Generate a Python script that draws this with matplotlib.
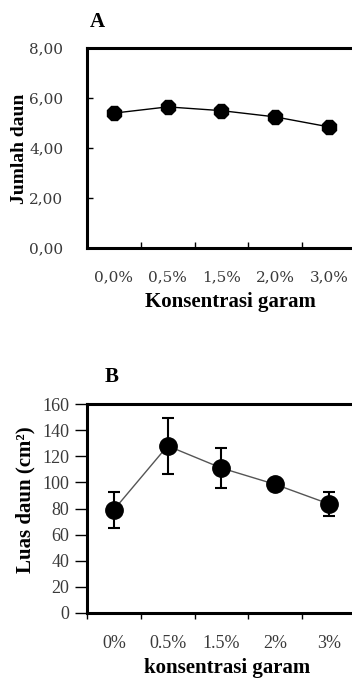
import numpy as np
import matplotlib.pyplot as plt

plt.rcParams['font.family'] = ['Liberation Serif', 'DejaVu Serif']

# data panel A
kat_a = ['0,0%', '0,5%', '1,5%', '2,0%', '3,0%']
jumlah_daun = [5.40, 5.65, 5.50, 5.25, 4.85]
err_a = [0.18, 0.20, 0.18, 0.15, 0.12]

# data panel B
kat_b = ['0%', '0.5%', '1.5%', '2%', '3%']
luas_daun = [79, 128, 111, 98.5, 83.5]
err_b = [14, 21.5, 15, 3, 9]

fig = plt.figure(figsize=(3.52, 6.78), dpi=100)
axA = fig.add_axes([0.247, 0.634, 0.764, 0.295])
axB = fig.add_axes([0.247, 0.096, 0.764, 0.308])

tick_col = '#3a3a3a'
font_a = dict(family='DejaVu Serif', size=11)
font_b = dict(family='Liberation Serif', size=13)

def style(ax, labels, direction, font):
    x = np.arange(len(labels))
    ax.set_xlim(-0.5, len(labels) - 0.5)
    ax.set_xticks(x)
    ax.set_xticklabels(labels, color=tick_col, **font)
    ax.set_xticks(np.arange(len(labels) + 1) - 0.5, minor=True)
    ax.tick_params(axis='x', which='minor', length=4, width=1, direction=direction)
    ax.tick_params(axis='y', length=4, width=1, direction=direction)
    for s in ax.spines.values():
        s.set_linewidth(2.2)
    return x

# panel A
x = style(axA, kat_a, 'in', font_a)
axA.errorbar(x, jumlah_daun, yerr=err_a, fmt='-', color='black', lw=1,
             ecolor='black', elinewidth=1.2, capsize=3, zorder=2)
axA.plot(x, jumlah_daun, linestyle='none', marker='8', markersize=10.5,
         color='black', zorder=3)
axA.set_ylim(0, 8)
axA.set_yticks([0, 2, 4, 6, 8])
axA.set_yticklabels(['0,00', '2,00', '4,00', '6,00', '8,00'], color=tick_col, **font_a)
axA.tick_params(axis='y', pad=17)
axA.tick_params(axis='x', which='major', length=0, pad=16)
axA.set_ylabel('Jumlah daun', fontsize=14, fontweight='bold', va='center')
axA.yaxis.set_label_coords(-0.249, 0.495)
axA.set_xlabel('Konsentrasi garam', fontsize=15, fontweight='bold', va='center')
axA.xaxis.set_label_coords(0.535, -0.27)
fig.text(0.256, 0.967, 'A', fontsize=15, fontweight='bold', va='center')

# panel B
x = style(axB, kat_b, 'out', font_b)
axB.plot(x, luas_daun, '-', color='#555555', lw=1, zorder=2)
axB.errorbar(x, luas_daun, yerr=err_b, fmt='none', ecolor='black',
             elinewidth=1.5, capsize=4, capthick=1.5, zorder=2)
axB.plot(x, luas_daun, linestyle='none', marker='o', markersize=12.5,
         color='black', zorder=3)
axB.set_ylim(0, 160)
axB.set_yticks(np.arange(0, 161, 20))
axB.set_yticklabels([str(v) for v in range(0, 161, 20)], color=tick_col, **font_b)
axB.tick_params(axis='y', length=9, pad=3.5)
axB.tick_params(axis='x', which='major', length=0, pad=16)
axB.set_ylabel('Luas daun (cm²)', fontsize=15, fontweight='bold', va='center')
axB.yaxis.set_label_coords(-0.23, 0.54)
axB.set_xlabel('konsentrasi garam', fontsize=15, fontweight='bold', va='center')
axB.xaxis.set_label_coords(0.52, -0.265)
fig.text(0.318, 0.444, 'B', fontsize=15, fontweight='bold', va='center', ha='center')

fig.savefig('out.png', dpi=100)
